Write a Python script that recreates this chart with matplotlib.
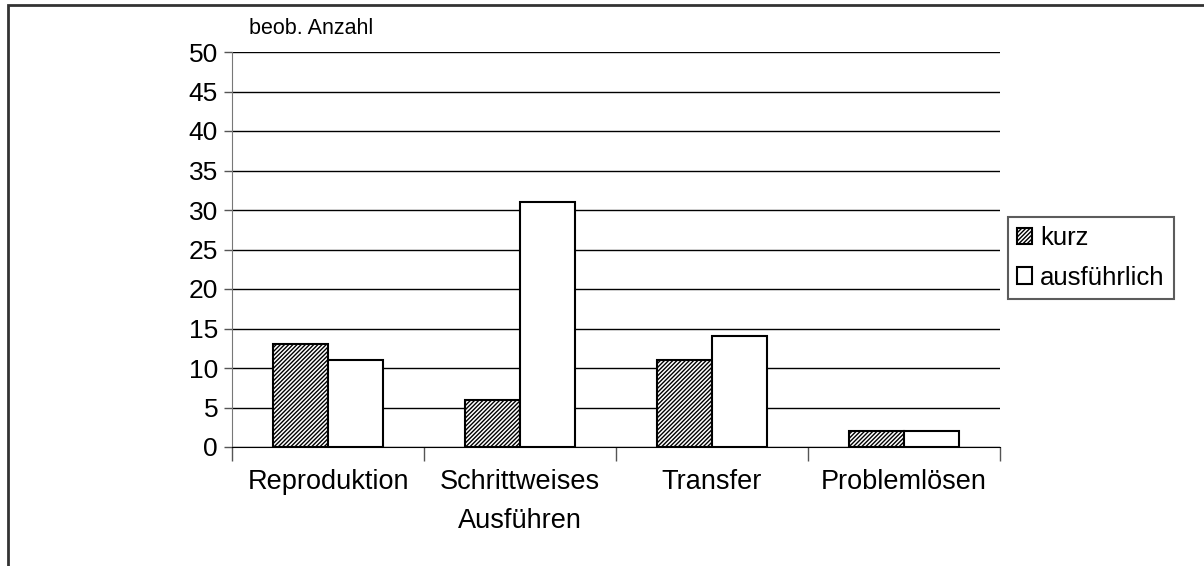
import numpy as np
import matplotlib.pyplot as plt
from matplotlib.patches import Rectangle

plt.rcParams['font.family'] = ['Liberation Sans', 'DejaVu Sans']
plt.rcParams['hatch.linewidth'] = 1.0

# Aufgabentypen und beobachtete Anzahl je Variante
kategorien = ['Reproduktion', 'Schrittweises\nAusführen', 'Transfer', 'Problemlösen']
kurz = [13, 6, 11, 2]
ausfuehrlich = [11, 31, 14, 2]
y_ticks = [0, 5, 10, 15, 20, 25, 30, 35, 40, 45, 50]

fig = plt.figure(figsize=(12.04, 5.66), dpi=100)
ax = fig.add_axes([232 / 1204, 1 - 447 / 566, 768 / 1204, 395 / 566])

# Rahmen um das ganze Diagramm
fig.patches.append(Rectangle((8 / 1204, -0.1), 1.2, 1 - 5 / 566 + 0.1,
                             transform=fig.transFigure, fill=False,
                             edgecolor='#333333', linewidth=2))

x = np.arange(len(kategorien))
w = 0.285
ax.bar(x - w / 2, kurz, w, color='white', edgecolor='black', hatch='////////',
       linewidth=1.5, label='kurz', zorder=3)
ax.bar(x + w / 2, ausfuehrlich, w, color='white', edgecolor='black',
       linewidth=1.5, label='ausführlich', zorder=3)

ax.set_xlim(-0.5, len(kategorien) - 0.5)
ax.set_ylim(0, 50)
ax.set_yticks(y_ticks)
ax.tick_params(axis='y', labelsize=19, length=6, width=1, color='#555555', pad=4)
ax.yaxis.grid(True, color='black', linewidth=1)
ax.set_axisbelow(True)

ax.set_xticks(x)
ax.set_xticklabels(kategorien, fontsize=19.5, linespacing=1.65)
ax.tick_params(axis='x', length=0, pad=16)
ax.set_xticks(np.arange(len(kategorien) + 1) - 0.5, minor=True)
ax.tick_params(axis='x', which='minor', length=10, width=1, color='#555555')

for s in ['top', 'right']:
    ax.spines[s].set_visible(False)
ax.spines['left'].set_color('#777777')
ax.spines['bottom'].set_color('black')

fig.text(249 / 1204, 1 - 28 / 566, 'beob. Anzahl', fontsize=15.5, va='center')

leg = ax.legend(loc='center left', bbox_to_anchor=(1008 / 1204, 1 - 258 / 566),
                bbox_transform=fig.transFigure, fontsize=18.5, frameon=True,
                fancybox=False, edgecolor='#333333', handlelength=0.6,
                handleheight=0.6, handletextpad=0.3, labelspacing=0.6,
                borderpad=0.35, borderaxespad=0)
leg.get_frame().set_linewidth(1.5)

fig.savefig('out.png', dpi=100)
